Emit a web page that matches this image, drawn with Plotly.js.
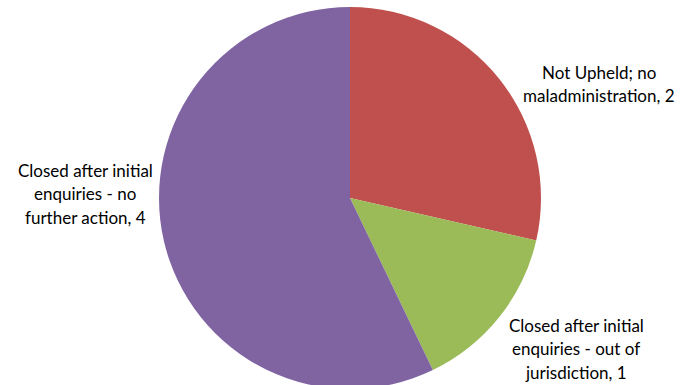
<!DOCTYPE html>
<html>
<head>
<meta charset="utf-8">
<script src="https://cdn.plot.ly/plotly-3.0.1.min.js"></script>
<style>
html,body{margin:0;padding:0;overflow:hidden;background:#fff;}
#chart{width:693px;height:390px;}
</style>
</head>
<body>
<div id="chart"></div>
<script>
// Data
var categories = [
  "Not Upheld; no maladministration",
  "Closed after initial enquiries - out of jurisdiction",
  "Closed after initial enquiries - no further action"
];
var values = [2, 1, 4];
// Wrapped display text for the data labels
var labelLines = [
  ["Not Upheld; no", "maladministration"],
  ["Closed after initial", "enquiries - out of", "jurisdiction"],
  ["Closed after initial", "enquiries - no", "further action"]
];
var colors = ["#C0504D", "#9BBB59", "#8064A2"];

var W = 693, H = 390;
var cx = 350, cy = 198, r = 191;

var trace = {
  type: "pie",
  labels: categories,
  values: values,
  sort: false,
  direction: "clockwise",
  rotation: 0,
  marker: {colors: colors, line: {width: 0}},
  textinfo: "none",
  hoverinfo: "label+value",
  showlegend: false,
  domain: {
    x: [(cx - r) / W, (cx + r) / W],
    y: [(H - cy - r) / H, (H - cy + r) / H]
  }
};

// label positions (pixel centre of first line) and line spacing
var labelPos = [
  {x: 599, y: 72},
  {x: 576, y: 325},
  {x: 85, y: 170}
];
var lineGap = 23.5;

var annotations = [];
categories.forEach(function (c, i) {
  var lines = labelLines[i].slice();
  lines[lines.length - 1] += ", " + values[i];
  lines.forEach(function (t, k) {
    annotations.push({
      xref: "paper", yref: "paper",
      x: labelPos[i].x / W, y: 1 - (labelPos[i].y + k * lineGap) / H,
      xanchor: "center", yanchor: "middle",
      text: t,
      showarrow: false,
      font: {family: "Lato, 'Open Sans', sans-serif", size: 17, color: "#000"}
    });
  });
});

var layout = {
  width: W, height: H,
  margin: {l: 0, r: 0, t: 0, b: 0},
  paper_bgcolor: "#fff",
  plot_bgcolor: "#fff",
  annotations: annotations
};

Plotly.newPlot("chart", [trace], layout, {displayModeBar: false, staticPlot: true});
</script>
</body>
</html>
